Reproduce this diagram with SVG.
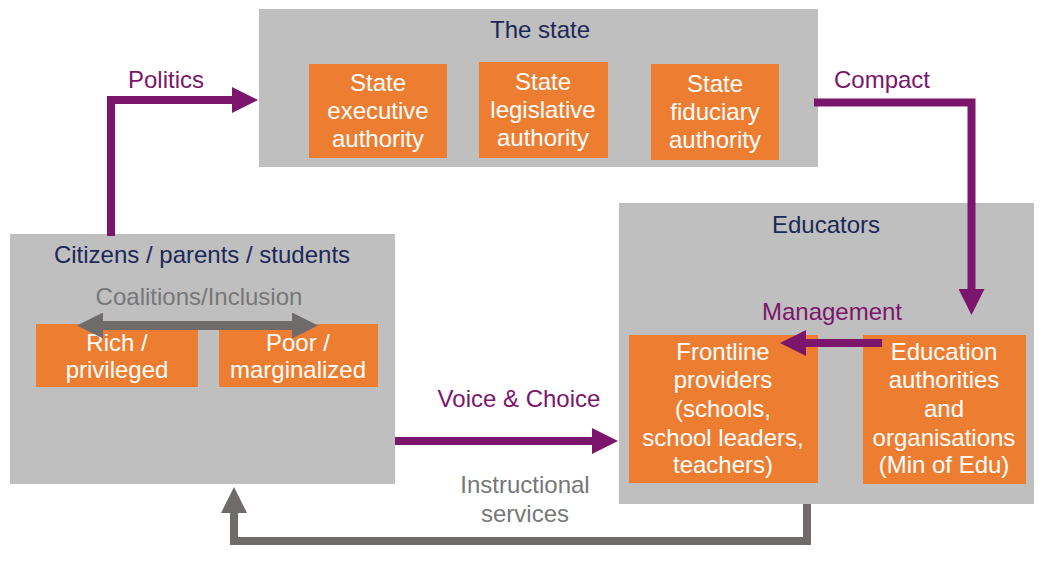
<svg xmlns="http://www.w3.org/2000/svg" width="1051" height="575" viewBox="0 0 1051 575">
<defs>
<style>
.box{fill:#bfbfbf}
.org{fill:#ed7d31}
.t{font-family:"Liberation Sans",Arial,sans-serif;font-size:24px;text-anchor:middle}
.title{fill:#1c2858}
.w{fill:#ffffff}
.p{fill:#7b166c}
.g{fill:#777777}
.pl{fill:none;stroke:#7b166c;stroke-width:8;stroke-linejoin:miter}
.gl{fill:none;stroke:#6f6b6b;stroke-width:8;stroke-linejoin:miter}
</style>
<marker id="ap" viewBox="0 0 26 26" refX="0" refY="13" markerWidth="26" markerHeight="26" markerUnits="userSpaceOnUse" orient="auto"><path d="M0,0 L26,13 L0,26 z" fill="#7b166c"/></marker>
<marker id="ag" viewBox="0 0 26 26" refX="0" refY="13" markerWidth="26" markerHeight="26" markerUnits="userSpaceOnUse" orient="auto-start-reverse"><path d="M0,0 L26,13 L0,26 z" fill="#6f6b6b"/></marker>
</defs>
<rect width="1051" height="575" fill="#ffffff"/>

<g id="state">
<rect class="box" x="259" y="9" width="559" height="158"/>
<text class="t title" x="540" y="38">The state</text>
</g>
<g id="state-executive">
<rect class="org" x="309" y="64" width="138" height="94"/>
<text class="t w" x="378" y="91">State</text>
<text class="t w" x="378" y="119">executive</text>
<text class="t w" x="378" y="147">authority</text>
</g>
<g id="state-legislative">
<rect class="org" x="479" y="62" width="129" height="96"/>
<text class="t w" x="543" y="90">State</text>
<text class="t w" x="543" y="118">legislative</text>
<text class="t w" x="543" y="146">authority</text>
</g>
<g id="state-fiduciary">
<rect class="org" x="651" y="64" width="128" height="96"/>
<text class="t w" x="715" y="92">State</text>
<text class="t w" x="715" y="120">fiduciary</text>
<text class="t w" x="715" y="148">authority</text>
</g>

<g id="citizens">
<rect class="box" x="10" y="234" width="385" height="250"/>
<text class="t title" x="202" y="263">Citizens / parents / students</text>
<text class="t g" x="199" y="305">Coalitions/Inclusion</text>
</g>
<g id="rich">
<rect class="org" x="36" y="324" width="162" height="63"/>
<text class="t w" x="117" y="351">Rich /</text>
<text class="t w" x="117" y="378">privileged</text>
</g>
<g id="poor">
<rect class="org" x="219" y="324" width="159" height="63"/>
<text class="t w" x="298" y="351">Poor /</text>
<text class="t w" x="298" y="378">marginalized</text>
</g>

<g id="educators">
<rect class="box" x="619" y="203" width="415" height="301"/>
<text class="t title" x="826" y="233">Educators</text>
</g>
<g id="frontline">
<rect class="org" x="629" y="335" width="189" height="148"/>
<text class="t w" x="723" y="360">Frontline</text>
<text class="t w" x="723" y="388">providers</text>
<text class="t w" x="723" y="417">(schools,</text>
<text class="t w" x="723" y="446">school leaders,</text>
<text class="t w" x="723" y="473">teachers)</text>
</g>
<g id="education-authorities">
<rect class="org" x="863" y="335" width="163" height="149"/>
<text class="t w" x="944" y="360">Education</text>
<text class="t w" x="944" y="388">authorities</text>
<text class="t w" x="944" y="417">and</text>
<text class="t w" x="944" y="446">organisations</text>
<text class="t w" x="944" y="473">(Min of Edu)</text>
</g>

<g id="connectors">
<path class="pl" d="M111,236 V100 H232" marker-end="url(#ap)"/>
<text class="t p" x="166" y="88">Politics</text>
<path class="pl" d="M814,102.5 H971.5 V289" marker-end="url(#ap)"/>
<text class="t p" x="882" y="88">Compact</text>
<path class="pl" d="M882,343 H806" marker-end="url(#ap)"/>
<text class="t p" x="832" y="320">Management</text>
<path class="pl" d="M395,441 H592" marker-end="url(#ap)"/>
<text class="t p" x="519" y="407">Voice &amp; Choice</text>
<path class="gl" d="M807,504 V541 H234 V513" marker-end="url(#ag)"/>
<text class="t g" x="525" y="493">Instructional</text>
<text class="t g" x="525" y="522">services</text>
<path class="gl" style="stroke-width:9" d="M103,325.5 H292" marker-start="url(#ag)" marker-end="url(#ag)"/>
</g>
</svg>
